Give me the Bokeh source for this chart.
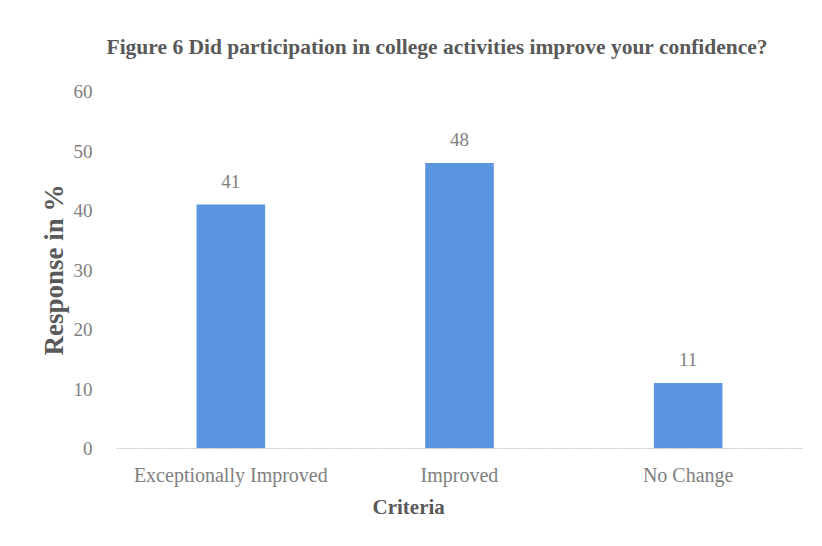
from bokeh.plotting import figure
from bokeh.models import ColumnDataSource, LabelSet, Title, Range1d, FixedTicker
from bokeh.embed import file_html
from bokeh.resources import INLINE

categories = ["Exceptionally Improved", "Improved", "No Change"]
responses = [41, 48, 11]
y_ticks = [0, 10, 20, 30, 40, 50, 60]

source = ColumnDataSource(dict(cat=categories, val=responses, lab=[str(v) for v in responses]))

FONT = "Liberation Serif"
GRAY = "#808080"
DARK = "#595959"

p = figure(x_range=categories, width=806, height=530, output_backend="svg",
           toolbar_location=None, min_border_left=116, min_border_right=4,
           min_border_top=90, min_border_bottom=82)
p.y_range = Range1d(0, 60)

p.vbar(x="cat", top="val", width=0.3, source=source, color="#5b95e0", line_color=None)

labels = LabelSet(x="cat", y="val", text="lab", source=source, text_align="center",
                  text_baseline="bottom", y_offset=17, text_font=FONT,
                  text_font_size="19px", text_color=GRAY)
p.add_layout(labels)

t = Title(text="Figure 6 Did participation in college activities improve your confidence?",
          text_font=FONT, text_font_style="bold", text_font_size="21.5px",
          text_color=DARK, align="left", offset=-10, standoff=65)
p.add_layout(t, "above")

xlab = Title(text="Criteria", text_font=FONT, text_font_style="bold", text_font_size="21px",
             text_color=DARK, align="left", offset=256, standoff=9)
p.add_layout(xlab, "below")

p.outline_line_color = None
p.xgrid.grid_line_color = None
p.ygrid.grid_line_color = None

p.yaxis.ticker = FixedTicker(ticks=y_ticks)
p.yaxis.axis_line_color = None
p.yaxis.major_tick_line_color = None
p.yaxis.minor_tick_line_color = None
p.yaxis.major_label_text_font = FONT
p.yaxis.major_label_text_font_size = "19px"
p.yaxis.major_label_text_color = GRAY
p.yaxis.major_label_standoff = 18
p.yaxis.axis_label = "Response in %"
p.yaxis.axis_label_text_font = FONT
p.yaxis.axis_label_text_font_style = "bold"
p.yaxis.axis_label_text_font_size = "27px"
p.yaxis.axis_label_text_color = DARK
p.yaxis.axis_label_standoff = 2

p.xaxis.axis_line_color = "#c8c8c8"
p.xaxis.axis_line_dash = "2 1"
p.xaxis.major_tick_line_color = None
p.xaxis.minor_tick_line_color = None
p.xaxis.major_label_text_font = FONT
p.xaxis.major_label_text_font_size = "20px"
p.xaxis.major_label_text_color = GRAY
p.xaxis.major_label_standoff = 9

open("out.html", "w").write(file_html(p, INLINE))
